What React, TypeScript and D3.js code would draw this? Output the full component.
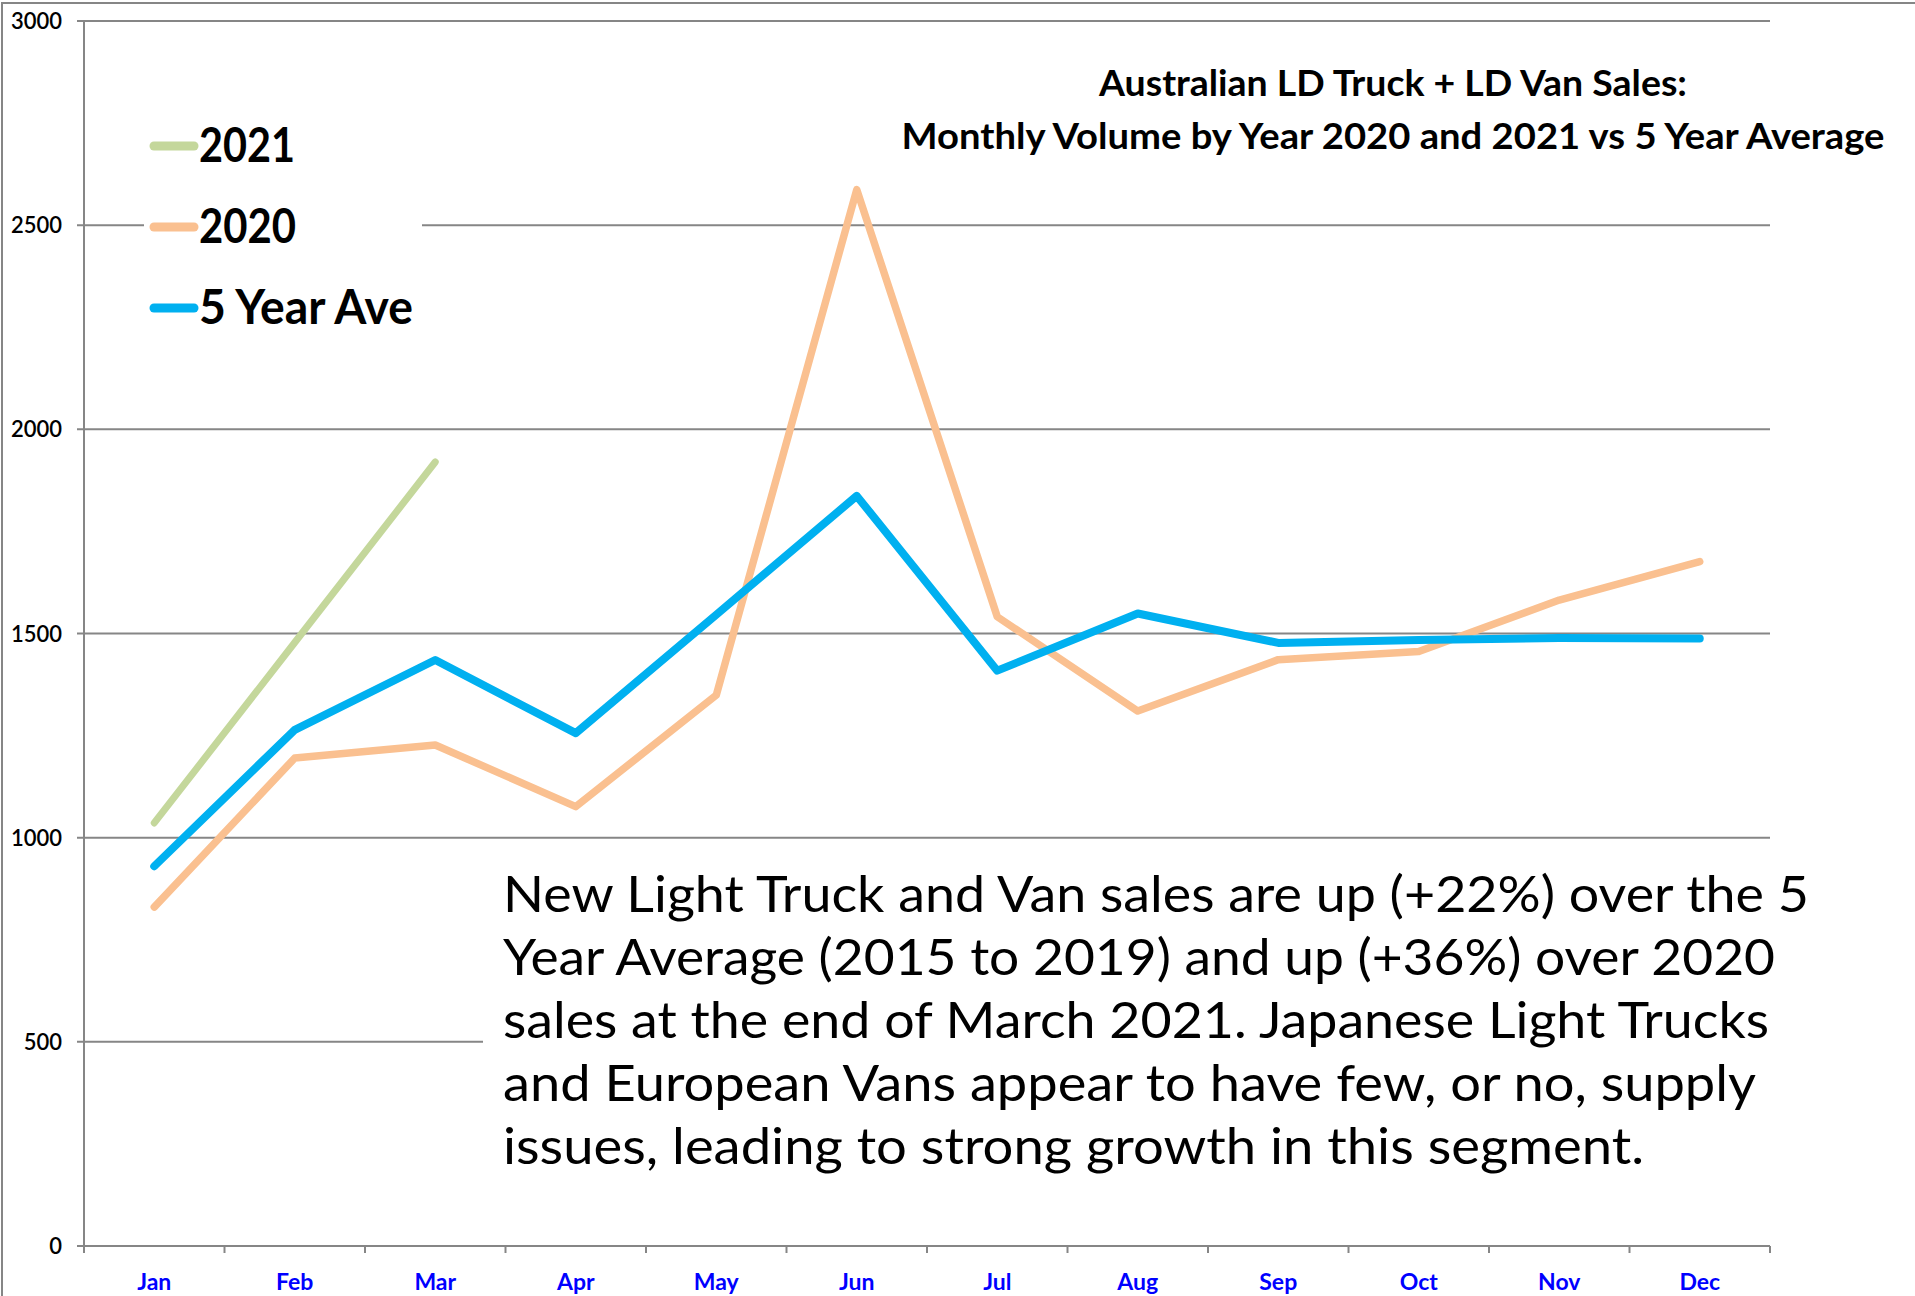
import React from "react";
import * as d3 from "d3";

const months = ["Jan", "Feb", "Mar", "Apr", "May", "Jun", "Jul", "Aug", "Sep", "Oct", "Nov", "Dec"];
const sales2021 = [1036, 1478, 1920];
const sales2020 = [830, 1195, 1227, 1076, 1349, 2587, 1541, 1310, 1436, 1456, 1582, 1676];
const fiveYearAve = [930, 1264, 1435, 1256, 1546, 1837, 1409, 1549, 1477, 1484, 1489, 1488];
const yTicks = [0, 500, 1000, 1500, 2000, 2500, 3000];

const titleLines = [
  "Australian LD Truck + LD Van Sales:",
  "Monthly Volume by Year 2020 and 2021 vs 5 Year Average",
];
const noteLines = [
  "New Light Truck and Van sales are up (+22%) over the 5",
  "Year Average (2015 to 2019) and up (+36%) over 2020",
  "sales at the end of March 2021. Japanese Light Trucks",
  "and European Vans appear to have few, or no, supply",
  "issues, leading to strong growth in this segment.",
];
const noteWidths = [1306, 1272, 1266, 1253, 1141];
const titleWidths = [588, 983];

const series = [
  { name: "2021", values: sales2021, color: "#C4D79B", width: 7 },
  { name: "2020", values: sales2020, color: "#FAC090", width: 7.5 },
  { name: "5 Year Ave", values: fiveYearAve, color: "#00B0F0", width: 8 },
];
const legendWidths = [96, 97, 214];

const W = 1915;
const H = 1296;
const FONT = "Lato, 'Open Sans', 'Noto Sans', sans-serif";
const GRID = "#868686";

export default function App() {
  const x = d3.scaleBand<string>().domain(months).range([84, 1770]).padding(0);
  const y = d3.scaleLinear().domain([0, 3000]).range([1246, 21]);
  const cx = (i: number) => (x(months[i]) as number) + x.bandwidth() / 2;
  const line = d3
    .line<number>()
    .x((_, i) => cx(i))
    .y((v) => y(v));
  const boundaries = [...months.map((m) => x(m) as number), 1770];

  return (
    <svg
      width={W}
      height={H}
      style={{ position: "absolute", left: 0, top: 0, background: "#fff" }}
      fontFamily={FONT}
    >
      <rect x={2} y={3} width={3000} height={3000} fill="#fff" stroke={GRID} strokeWidth={2} />
      {yTicks.map((t) => (
        <line key={"g" + t} x1={77} x2={1770} y1={y(t)} y2={y(t)} stroke={GRID} strokeWidth={2} />
      ))}
      <line x1={84} x2={84} y1={y(3000)} y2={y(0)} stroke={GRID} strokeWidth={2} />
      {boundaries.map((b, i) => (
        <line key={"xt" + i} x1={b} x2={b} y1={y(0)} y2={y(0) + 7} stroke={GRID} strokeWidth={2} />
      ))}
      {yTicks.map((t) => (
        <text
          key={"yl" + t}
          x={62}
          y={y(t) + 8}
          textAnchor="end"
          fontSize={22}
          fontWeight={600}
          fill="#000"
        >
          {t}
        </text>
      ))}
      {months.map((m, i) => (
        <text
          key={"xl" + m}
          x={cx(i)}
          y={1290}
          textAnchor="middle"
          fontSize={23}
          fontWeight="bold"
          fill="#0000FF"
        >
          {m}
        </text>
      ))}
      <rect x={144} y={105} width={278} height={240} fill="#fff" />
      <rect x={483} y={862} width={1420} height={330} fill="#fff" />
      {series.map((s) => (
        <path
          key={s.name}
          d={line(s.values) as string}
          fill="none"
          stroke={s.color}
          strokeWidth={s.width}
          strokeLinecap="round"
          strokeLinejoin="round"
        />
      ))}
      {series.map((s, i) => {
        const ly = 146 + i * 81;
        return (
          <g key={"lg" + s.name}>
            <line x1={154} x2={194} y1={ly} y2={ly} stroke={s.color} strokeWidth={9} strokeLinecap="round" />
            <text
              x={199}
              y={ly + 16}
              fontSize={48}
              fontWeight="bold"
              fill="#000"
              textLength={legendWidths[i]}
              lengthAdjust="spacingAndGlyphs"
            >
              {s.name}
            </text>
          </g>
        );
      })}
      {titleLines.map((t, i) => (
        <text
          key={"t" + i}
          x={1393}
          y={96 + i * 53}
          textAnchor="middle"
          fontSize={37}
          fontWeight="bold"
          fill="#000"
          textLength={titleWidths[i]}
          lengthAdjust="spacingAndGlyphs"
        >
          {t}
        </text>
      ))}
      {noteLines.map((t, i) => (
        <text
          key={"n" + i}
          x={503}
          y={912 + i * 63}
          fontSize={50}
          fill="#000"
          textLength={noteWidths[i]}
          lengthAdjust="spacingAndGlyphs"
        >
          {t}
        </text>
      ))}
    </svg>
  );
}
